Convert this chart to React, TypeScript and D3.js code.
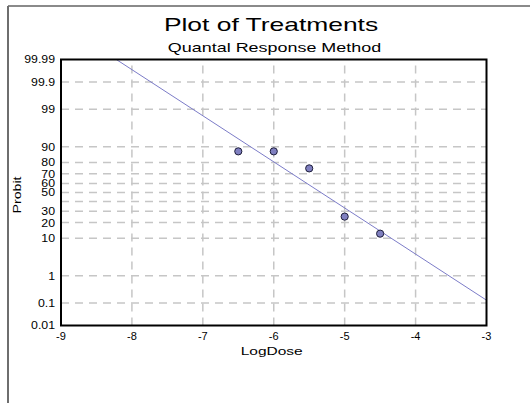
import React from 'react';
import * as d3 from 'd3';

// observed treatments
const logDose = [-6.5, -6, -5.5, -5, -4.5];
const response = [87.5, 87.5, 75, 25, 12.5];

// fitted probit line, end points
const fitDose = [-8.22, -3];
const fitResponse = [99.99, 0.13];

const xTicks = [-9, -8, -7, -6, -5, -4, -3];
const yLabels = [0.01, 0.1, 1, 10, 20, 30, 50, 60, 70, 80, 90, 99, 99.9, 99.99];
const yGrid = [0.1, 1, 10, 20, 30, 40, 50, 60, 70, 80, 90, 99, 99.9];

// inverse normal cdf (Acklam) -> probit axis
function probit(pct: number): number {
  const p = pct / 100;
  const a = [-39.69683028665376, 220.9460984245205, -275.9285104469687, 138.357751867269, -30.66479806614716, 2.506628277459239];
  const b = [-54.47609879822406, 161.5858368580409, -155.6989798598866, 66.80131188771972, -13.28068155288572];
  const c = [-0.007784894002430293, -0.3223964580411365, -2.400758277161838, -2.549732539343734, 4.374664141464968, 2.938163982698783];
  const d = [0.007784695709041462, 0.3224671290700398, 2.445134137142996, 3.754408661907416];
  const pl = 0.02425;
  if (p < pl) {
    const q = Math.sqrt(-2 * Math.log(p));
    return (((((c[0] * q + c[1]) * q + c[2]) * q + c[3]) * q + c[4]) * q + c[5]) /
      ((((d[0] * q + d[1]) * q + d[2]) * q + d[3]) * q + 1);
  }
  if (p > 1 - pl) {
    const q = Math.sqrt(-2 * Math.log(1 - p));
    return -(((((c[0] * q + c[1]) * q + c[2]) * q + c[3]) * q + c[4]) * q + c[5]) /
      ((((d[0] * q + d[1]) * q + d[2]) * q + d[3]) * q + 1);
  }
  const q = p - 0.5;
  const r = q * q;
  return (((((a[0] * r + a[1]) * r + a[2]) * r + a[3]) * r + a[4]) * r + a[5]) * q /
    (((((b[0] * r + b[1]) * r + b[2]) * r + b[3]) * r + b[4]) * r + 1);
}

const W = 530;
const H = 403;
const left = 61, right = 486.5, top = 59.5, bottom = 325.5;
const FONT = '"Liberation Sans", Arial, sans-serif';

const App: React.FC = () => {
  const x = d3.scaleLinear().domain([-9, -3]).range([left, right]);
  const z = d3.scaleLinear().domain([probit(0.01), probit(99.99)]).range([bottom, top]);
  const y = (v: number) => z(probit(v));

  const line = d3.line<number>()
    .x((_, i) => x(fitDose[i]))
    .y((v) => y(v));

  return (
    <svg width={W} height={H} style={{ position: 'absolute', left: 0, top: 0, background: '#fff' }}
      fontFamily={FONT}>
      {/* window frame */}
      <line x1={8} y1={6} x2={W} y2={6} stroke="#8a8a8a" strokeWidth={2} />
      <line x1={8} y1={6} x2={8} y2={H} stroke="#6e6e6e" strokeWidth={2} />

      <text transform="translate(271,31) scale(1.39,1)" textAnchor="middle" fontSize={19}>Plot of Treatments</text>
      <text transform="translate(274.5,52) scale(1.38,1)" textAnchor="middle" fontSize={13}>Quantal Response Method</text>

      {/* grid */}
      <g stroke="#c6c6c6" strokeWidth={1.5} strokeDasharray="8,6">
        {yGrid.map((v) => (
          <line key={'h' + v} x1={left} x2={right} y1={y(v)} y2={y(v)} />
        ))}
        {xTicks.slice(1, -1).map((v) => (
          <line key={'v' + v} x1={x(v)} x2={x(v)} y1={bottom} y2={top} />
        ))}
      </g>

      {/* fitted line */}
      <path d={line(fitResponse) || ''} fill="none" stroke="#7c7cc8" strokeWidth={1} />

      {/* points */}
      {logDose.map((v, i) => (
        <circle key={i} cx={x(v)} cy={y(response[i])} r={3.6} fill="#8080c0" stroke="#1e1e3a" strokeWidth={1} />
      ))}

      <rect x={left} y={top} width={right - left} height={bottom - top} fill="none" stroke="#000" strokeWidth={2} />

      {/* y labels */}
      {yLabels.map((v) => (
        <text key={'yl' + v} transform={`translate(55,${y(v)}) scale(1.12,1)`} dy="0.36em"
          textAnchor="end" fontSize={11}>{String(v)}</text>
      ))}

      {/* x labels */}
      {xTicks.map((v) => (
        <text key={'xl' + v} x={x(v)} y={340} textAnchor="middle" fontSize={11}>{String(v)}</text>
      ))}

      <text transform="translate(271.7,354.5) scale(1.41,1)" textAnchor="middle" fontSize={11}>LogDose</text>
      <text transform="translate(20.5,195) rotate(-90) scale(1.29,1)" textAnchor="middle" fontSize={11}>Probit</text>
    </svg>
  );
};

export default App;
